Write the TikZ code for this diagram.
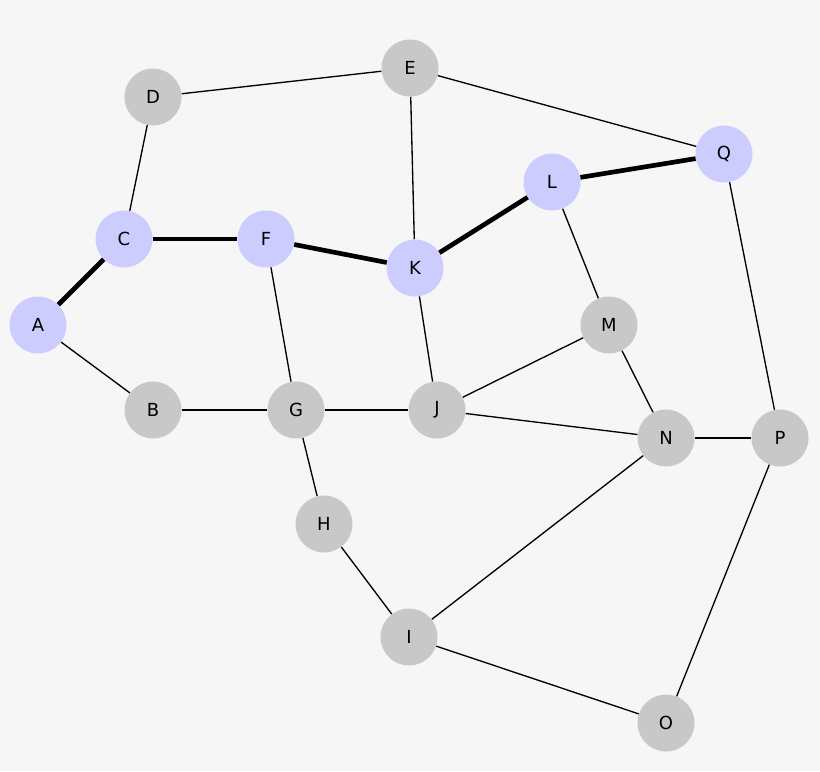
\documentclass[tikz,border=0pt]{standalone}
\usepackage{fontspec}
\setmainfont{DejaVu Sans}
\definecolor{bgcol}{RGB}{246,246,246}
\definecolor{grayfill}{RGB}{200,200,200}
\definecolor{bluefill}{RGB}{204,204,255}
\tikzset{
	vtx/.style={circle,fill=grayfill,minimum size=42.75pt,inner sep=0pt,font=\fontsize{13.5}{15}\selectfont},
	pathvtx/.style={vtx,fill=bluefill},
	edge/.style={line width=1pt},
	pathedge/.style={line width=3.5pt}
}
\begin{document}
\begin{tikzpicture}[x=0.75pt,y=0.75pt,yscale=-1,xscale=1]
	%background
	\fill [bgcol] (0,0) rectangle (820,771);
	\useasboundingbox (0,0) rectangle (820,771);

	% Nodes
	\node [pathvtx] (A) at (38,325) {A};
	\node [vtx] (B) at (153,410) {B};
	\node [pathvtx] (C) at (124,239) {C};
	\node [vtx] (D) at (153,97) {D};
	\node [vtx] (E) at (410,68) {E};
	\node [pathvtx] (F) at (266,239) {F};
	\node [vtx] (G) at (296,410) {G};
	\node [vtx] (H) at (324,524) {H};
	\node [vtx] (I) at (409,637) {I};
	\node [vtx] (J) at (437,410) {J};
	\node [pathvtx] (K) at (415,268) {K};
	\node [pathvtx] (L) at (552,182) {L};
	\node [vtx] (M) at (609,325) {M};
	\node [vtx] (N) at (666,438) {N};
	\node [vtx] (O) at (666,723) {O};
	\node [vtx] (P) at (780,438) {P};
	\node [pathvtx] (Q) at (724,154) {Q};

	% Edges
	\draw [edge] (A) -- (B);
	\draw [edge] (B) -- (G);
	\draw [edge] (C) -- (D);
	\draw [edge] (D) -- (E);
	\draw [edge] (E) -- (K);
	\draw [edge] (E) -- (Q);
	\draw [edge] (F) -- (G);
	\draw [edge] (G) -- (J);
	\draw [edge] (G) -- (H);
	\draw [edge] (H) -- (I);
	\draw [edge] (I) -- (N);
	\draw [edge] (I) -- (O);
	\draw [edge] (J) -- (K);
	\draw [edge] (J) -- (M);
	\draw [edge] (J) -- (N);
	\draw [edge] (L) -- (M);
	\draw [edge] (M) -- (N);
	\draw [edge] (N) -- (P);
	\draw [edge] (P) -- (Q);
	\draw [edge] (P) -- (O);

	% Shortest path
	\draw [pathedge] (A) -- (C);
	\draw [pathedge] (C) -- (F);
	\draw [pathedge] (F) -- (K);
	\draw [pathedge] (K) -- (L);
	\draw [pathedge] (L) -- (Q);

\end{tikzpicture}
\end{document}
